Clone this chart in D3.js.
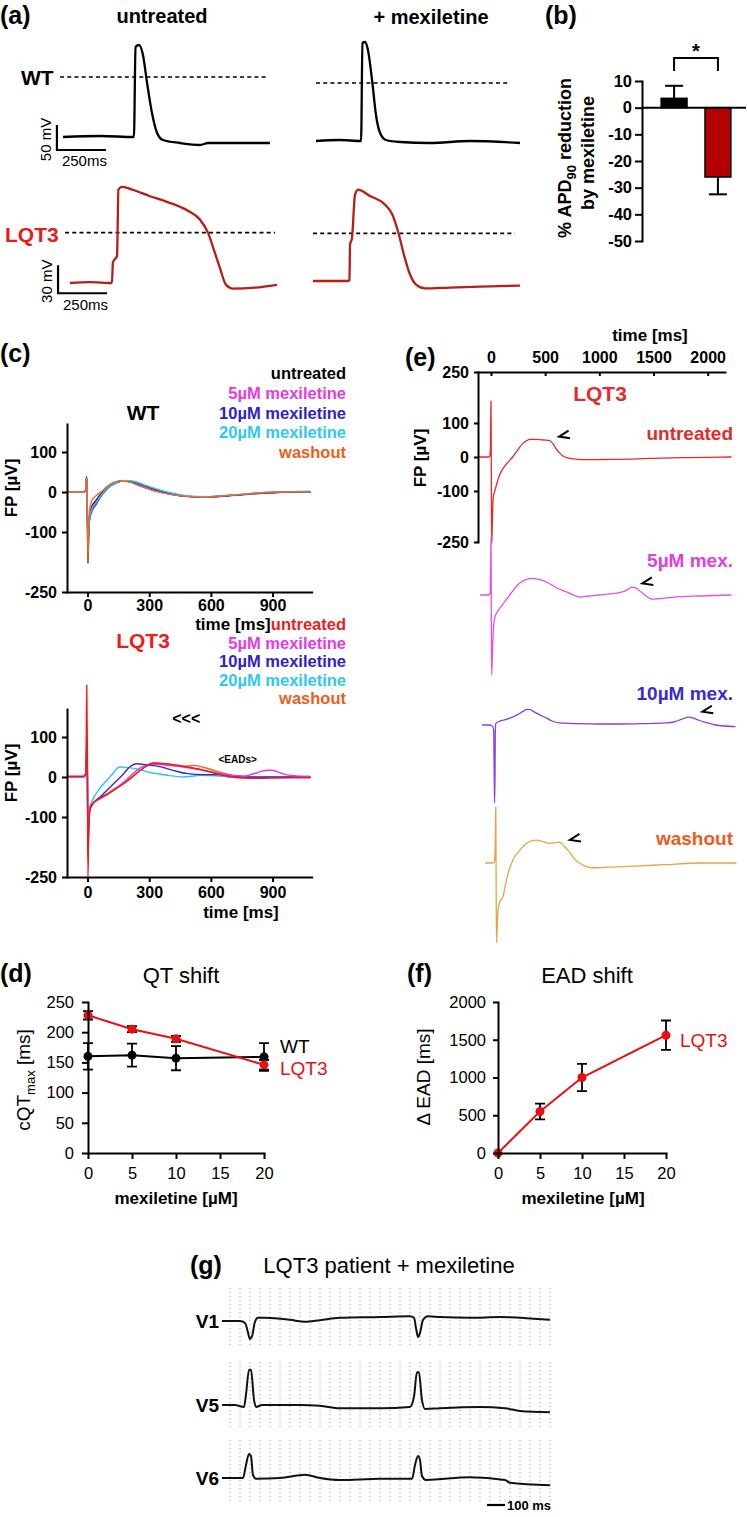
<!DOCTYPE html>
<html>
<head>
<meta charset="utf-8">
<script src="https://cdn.jsdelivr.net/npm/d3@7"></script>
<style>
  body { margin: 0; background: #fff; }
  svg { display: block; }
</style>
</head>
<body>
<svg id="fig" width="747" height="1517"></svg>
<script>
// ---------- data ----------
// (a) action potentials: [ms, mV above rest]
const apWtUntreated = [[0,0],[189,2],[362,0],[370,180],[388,184],[408,164],[429,108],[454,48],[480,8],[510,-6],[597,-12],[699,-16],[740,-12],[867,-12],[1056,-12]];
const apWtMex = [[0,0],[122,2],[230,0],[237,196],[250,198],[265,182],[286,122],[306,52],[327,16],[357,2],[429,-2],[582,-4],[786,0],[1041,-4]];
const apLqtUntreated = [[0,0],[102,1],[214,0],[219,22],[240,29],[247,100],[265,103],[306,101],[408,93],[495,87],[597,78],[663,68],[704,54],[735,35],[765,16],[796,-2],[832,-6],[944,-5],[1056,-2]];
const apLqtMex = [[0,0],[179,0],[186,1],[189,39],[199,46],[214,92],[230,98],[291,91],[367,82],[403,72],[434,53],[464,28],[495,7],[526,-4],[571,-8],[699,-7],[852,-6],[1056,-5]];
const apDashLevel = [120, 116, 54, 51];
const apDashSpan = [[-15,1046],[0,990],[-25,1046],[0,1030]];

// (b) % APD90 reduction by mexiletine
const bGroups = ["WT", "LQT3"];
const bMeans = [3.5, -26];
const bErrors = [4.7, 6.5];
const bTicks = [10, 0, -10, -20, -30, -40, -50];

// (c) field potentials [ms, µV]
const cLegend = ["untreated", "5µM mexiletine", "10µM mexiletine", "20µM mexiletine", "washout"];
const cWt = [
  [[-100,0],[-20,0],[-10,4],[-5,38],[-3,20],[0,-100],[2,-178],[5,-120],[10,-60],[20,-38],[40,-22],[70,-2],[100,14],[140,25],[170,28],[210,25],[260,15],[330,3],[400,-5],[480,-11],[560,-13],[650,-11],[750,-7],[850,-3],[950,-1],[1085,0]],
  [[-100,0],[-20,0],[-10,4],[-5,35],[-3,18],[0,-80],[2,-110],[5,-95],[10,-60],[20,-42],[40,-26],[70,-5],[100,12],[140,24],[175,28],[215,26],[265,16],[335,4],[405,-5],[485,-11],[565,-13],[655,-10],[755,-6],[855,-2],[955,0],[1085,1]],
  [[-100,0],[-20,0],[-10,4],[-5,36],[-3,18],[0,-90],[2,-115],[5,-100],[10,-70],[20,-50],[40,-32],[70,-8],[100,10],[140,23],[180,28],[220,26],[270,17],[340,5],[410,-4],[490,-11],[570,-13],[660,-10],[760,-6],[860,-2],[960,0],[1085,1]],
  [[-100,0],[-20,0],[-10,4],[-5,34],[-3,17],[0,-85],[2,-105],[5,-95],[10,-65],[20,-45],[40,-28],[70,-6],[100,11],[140,24],[180,29],[225,27],[275,18],[345,6],[415,-3],[495,-10],[575,-12],[665,-9],[765,-5],[865,-1],[965,1],[1085,2]],
  [[-100,0],[-20,0],[-10,4],[-5,36],[-3,18],[0,-90],[2,-175],[5,-110],[10,-45],[20,-22],[40,-10],[70,2],[100,16],[140,26],[170,27],[210,24],[260,14],[330,2],[400,-6],[480,-11],[560,-13],[650,-10],[750,-6],[850,-2],[950,0],[1085,0]]
];
const cLqt = [
  [[-100,2],[-20,2],[-8,10],[-4,230],[-1,60],[2,-250],[5,-150],[10,-90],[20,-70],[100,-42],[200,-8],[280,25],[320,35],[380,33],[465,27],[540,20],[615,10],[700,0],[800,-3],[1000,-2],[1085,-2]],
  [[-100,0],[-20,0],[-8,8],[-4,80],[-1,30],[2,-160],[5,-110],[10,-80],[20,-68],[60,-55],[100,-42],[140,-28],[200,-2],[255,22],[320,32],[380,30],[465,25],[550,18],[630,10],[700,4],[760,2],[820,10],[870,17],[900,17],[940,10],[985,4],[1085,1]],
  [[-100,1],[-20,1],[-8,6],[-4,60],[-1,20],[2,-190],[5,-130],[10,-85],[20,-72],[65,-48],[120,-20],[170,5],[205,25],[240,33],[290,30],[350,26],[420,16],[480,9],[560,6],[630,6],[700,3],[780,0],[900,0],[1085,1]],
  [[-100,0],[-20,0],[-8,5],[-4,50],[-1,15],[2,-137],[5,-100],[10,-75],[20,-62],[60,-28],[100,-5],[125,10],[156,25],[190,24],[240,20],[300,12],[380,5],[465,0],[550,4],[620,3],[700,0],[850,-1],[1085,2]],
  [[-100,1],[-20,1],[-8,8],[-4,100],[-1,35],[2,-200],[5,-140],[10,-85],[20,-70],[100,-40],[200,-6],[280,25],[320,35],[380,32],[440,27],[480,27],[515,29],[560,25],[630,14],[690,6],[750,2],[850,-1],[1085,-1]]
];
const cYTicks = [-250, -100, 0, 100];
const cXTicks = [0, 300, 600, 900];

// (e) LQT3 field potentials [ms, µV]
const eLabels = ["untreated", "5µM mex.", "10µM mex.", "washout"];
const eUntreated = [[-119,0],[-20,0],[-10,4],[-5,30],[-2,120],[0,165],[2,40],[4,-150],[7,-255],[12,-200],[20,-120],[37,-98],[83,-50],[140,-22],[200,0],[250,22],[294,40],[330,48],[358,52],[420,52],[490,50],[541,48],[570,40],[600,25],[633,12],[665,3],[697,-2],[780,-6],[880,-8],[1100,-7],[1300,-6],[1500,-4],[1760,-2],[2000,-1],[2220,0]];
const e5 = [[-100,0],[-20,0],[-8,5],[-3,100],[0,170],[2,40],[4,-150],[7,-235],[12,-180],[22,-100],[37,-64],[80,-40],[130,-18],[174,0],[220,20],[266,35],[320,45],[385,49],[440,46],[514,38],[600,22],[697,9],[760,0],[817,-6],[900,-3],[1000,0],[1100,3],[1211,9],[1260,16],[1303,23],[1340,20],[1367,14],[1420,0],[1486,-12],[1540,-11],[1610,-9],[1750,-5],[1917,-3],[2220,0]];
const e10 = [[-83,0],[-10,0],[15,-4],[25,-15],[29,-130],[33,-229],[37,-150],[40,-20],[45,5],[64,9],[146,17],[238,29],[300,41],[330,46],[360,45],[390,40],[450,30],[514,20],[570,11],[633,6],[800,4],[1000,3],[1200,3],[1400,4],[1615,6],[1700,10],[1761,17],[1826,23],[1870,20],[1917,14],[2000,6],[2073,0],[2257,-5]];
const eWash = [[-55,0],[10,0],[30,3],[38,40],[42,120],[44,165],[46,60],[48,-100],[51,-235],[56,-200],[62,-150],[75,-120],[111,-98],[150,-40],[202,9],[260,35],[330,58],[380,66],[422,67],[480,63],[541,58],[600,60],[633,61],[680,48],[725,32],[770,12],[817,0],[870,-9],[936,-14],[1100,-12],[1339,-9],[1600,-5],[1945,0],[2266,0]];
const eArrowTips = [[628,60],[1397,34],[1951,39],[729,68]];
const eXTicks = [0, 500, 1000, 1500, 2000];
const eYTicks = [-250, -100, 0, 100, 250];

// (d) QT shift
const doseConc = [0, 5, 10, 20];
const dWt = [160, 162, 157, 159];
const dWtErr = [22, 19, 20, 23];
const dLqt = [228, 205, 189, 146];
const dLqtErr = [7, 5, 5, 8];
const dYTicks = [0, 50, 100, 150, 200, 250];

// (f) EAD shift
const fEad = [0, 550, 1000, 1560];
const fEadErr = [0, 105, 180, 195];
const fYTicks = [0, 500, 1000, 1500, 2000];
const mexTicks = [0, 5, 10, 15, 20];

// (g) ECG leads [ms, mV]
const gLeads = ["V1", "V5", "V6"];
const ecgV1 = [[0,0],[100,0],[128,-0.05],[144,-0.28],[155,-0.45],[167,-0.38],[183,-0.02],[200,0.08],[239,0.08],[378,0.03],[461,-0.02],[544,0.02],[656,0.08],[878,0.1],[1044,0.12],[1067,0.08],[1078,-0.18],[1089,-0.4],[1100,-0.3],[1117,0.03],[1144,0.12],[1211,0.1],[1378,0.08],[1544,0.1],[1822,0.03]];
const ecgV5 = [[0,0],[72,0],[122,-0.05],[133,0.25],[150,0.88],[161,0.88],[178,0.12],[189,-0.05],[222,0],[433,0],[544,-0.02],[656,-0.08],[878,-0.08],[1044,-0.05],[1067,0.22],[1083,0.82],[1094,0.82],[1111,0.12],[1128,-0.1],[1211,-0.08],[1433,-0.05],[1572,-0.08],[1656,-0.15],[1822,-0.18]];
const ecgV6 = [[0,0],[117,0],[133,0.32],[150,0.6],[161,0.55],[172,0.08],[189,-0.02],[322,0],[461,0.08],[544,0],[656,-0.05],[878,-0.02],[1056,-0.02],[1072,0.32],[1089,0.55],[1100,0.45],[1111,0.05],[1133,-0.05],[1378,0.02],[1572,-0.05],[1600,-0.12],[1822,-0.18]];

// ---------- helpers ----------
const FONT = "'Liberation Sans', Arial, Helvetica, sans-serif";
const svg = d3.select("#fig");
svg.append("rect").attr("width", 747).attr("height", 1517).attr("fill", "#fff");

// text placed by the centre of its capitals
function txt(x, yc, s, size, color, weight, anchor) {
  return svg.append("text")
    .attr("x", x).attr("y", yc + size * 0.36)
    .attr("font-family", FONT).attr("font-size", size)
    .attr("font-weight", weight || "bold")
    .attr("fill", color || "#000")
    .attr("text-anchor", anchor || "start")
    .text(s);
}
// vertical text, xc = centre of capitals, yc = centre of string
function vtxt(xc, yc, s, size, color, weight) {
  const bx = xc + size * 0.36;
  return svg.append("text")
    .attr("transform", `translate(${bx},${yc}) rotate(-90)`)
    .attr("font-family", FONT).attr("font-size", size)
    .attr("font-weight", weight || "bold")
    .attr("fill", color || "#000")
    .attr("text-anchor", "middle")
    .text(s);
}
function axis(gen, tx, ty, size, weight) {
  const g = svg.append("g").attr("transform", `translate(${tx},${ty})`).call(gen);
  g.attr("font-family", FONT).attr("font-size", size).attr("font-weight", weight);
  g.select(".domain").attr("stroke-width", 2).attr("stroke-linecap", "square");
  g.selectAll(".tick line").attr("stroke-width", 2);
  return g;
}
const plain = d => String(d);

// ---------- (a) ----------
txt(0, 15, "(a)", 25);
txt(162, 16, "untreated", 20, "#000", "bold", "middle");
txt(431, 17, "+ mexiletine", 20, "#000", "bold", "middle");
txt(21, 77, "WT", 21);
txt(5, 234, "LQT3", 21, "#e02020");

const apTraces = [apWtUntreated, apWtMex, apLqtUntreated, apLqtMex];
const apBoxes = [
  { x0: 63, y0: 137, ky: 0.5, color: "#000" },
  { x0: 316, y0: 141, ky: 0.5, color: "#000" },
  { x0: 70, y0: 283, ky: 0.933, color: "#b81d16" },
  { x0: 313, y0: 281, ky: 0.933, color: "#b81d16" }
];
const apBars = { 0: { t: -31, v: -26, mv: 50, lab: "50 mV" }, 2: { t: -61, v: -11, mv: 30, lab: "30 mV" } };

apTraces.forEach((tr, i) => {
  const b = apBoxes[i];
  const x = d3.scaleLinear().domain([0, 1000]).range([b.x0, b.x0 + 196]);
  const y = d3.scaleLinear().domain([0, 100]).range([b.y0, b.y0 - 100 * b.ky]);
  svg.append("line")
    .attr("x1", x(apDashSpan[i][0])).attr("x2", x(apDashSpan[i][1]))
    .attr("y1", y(apDashLevel[i])).attr("y2", y(apDashLevel[i]))
    .attr("stroke", "#000").attr("stroke-width", 1.6).attr("stroke-dasharray", "4,3.2");
  svg.append("path").datum(tr)
    .attr("d", d3.line().x(d => x(d[0])).y(d => y(d[1])).curve(d3.curveMonotoneX))
    .attr("fill", "none").attr("stroke", b.color).attr("stroke-width", 2.3)
    .attr("stroke-linejoin", "round");
  const sb = apBars[i];
  if (sb) {
    svg.append("path")
      .attr("d", `M${x(sb.t)},${y(sb.v + sb.mv)}V${y(sb.v)}H${x(sb.t + 250)}`)
      .attr("fill", "none").attr("stroke", "#000").attr("stroke-width", 2.2);
    vtxt(x(sb.t) - 11, (y(sb.v) + y(sb.v + sb.mv)) / 2 + 2, sb.lab, 15, "#000", "normal");
    txt(x(sb.t) + 5, y(sb.v) + 11, "250ms", 15, "#000", "normal");
  }
});

// ---------- (b) ----------
txt(545, 15, "(b)", 25);
const yB = d3.scaleLinear().domain([-50, 10]).range([241, 81]);
const xB = d3.scaleBand().domain(bGroups).range([648, 744]).paddingInner(0.41).paddingOuter(0.3);
const bFill = ["#000", "#b30000"];
bGroups.forEach((gname, i) => {
  const v = bMeans[i], e = bErrors[i], s = Math.sign(v);
  const cx = xB(gname) + xB.bandwidth() / 2;
  const yEnd = yB(v + s * e);
  svg.append("line").attr("x1", cx).attr("x2", cx).attr("y1", yB(v)).attr("y2", yEnd)
    .attr("stroke", "#000").attr("stroke-width", 2);
  svg.append("line").attr("x1", cx - 9).attr("x2", cx + 9).attr("y1", yEnd).attr("y2", yEnd)
    .attr("stroke", "#000").attr("stroke-width", 2);
  svg.append("rect")
    .attr("x", xB(gname)).attr("width", xB.bandwidth())
    .attr("y", yB(Math.max(0, v))).attr("height", Math.abs(yB(v) - yB(0)))
    .attr("fill", bFill[i]).attr("stroke", "#000").attr("stroke-width", 1.5);
});
svg.append("line").attr("x1", 642).attr("x2", 746).attr("y1", yB(0)).attr("y2", yB(0))
  .attr("stroke", "#000").attr("stroke-width", 2);
axis(d3.axisLeft(yB).tickValues(bTicks).tickSize(7).tickSizeOuter(0).tickPadding(3).tickFormat(plain), 642, 0, 16.5, "bold");
{
  const c1 = xB("WT") + xB.bandwidth() / 2, c2 = xB("LQT3") + xB.bandwidth() / 2;
  svg.append("path").attr("d", `M${c1},71V58H${c2}V71`).attr("fill", "none")
    .attr("stroke", "#000").attr("stroke-width", 2);
  txt((c1 + c2) / 2, 51, "*", 20, "#000", "bold", "middle");
}
{
  const t1 = svg.append("text")
    .attr("transform", "translate(571,158) rotate(-90)")
    .attr("font-family", FONT).attr("font-size", 18).attr("font-weight", "bold")
    .attr("text-anchor", "middle");
  t1.append("tspan").text("% APD");
  t1.append("tspan").attr("dy", 5).attr("font-size", 13).text("90");
  t1.append("tspan").attr("dy", -5).text(" reduction");
  vtxt(588, 153, "by mexiletine", 18);
}

// ---------- (c) ----------
txt(0, 353, "(c)", 25);
const xC = d3.scaleLinear().domain([-100, 1090]).range([67, 311.6]);
const cWtColors = ["#000000", "#e33ae3", "#3a26d4", "#25c6ef", "#f06a1e"];
const cLqtColors = ["#f01818", "#e33ae3", "#3a26d4", "#25c6ef", "#f06a1e"];
const cLegendWt = ["#000000", "#e33ae3", "#2f22c8", "#2ec9f0", "#f05e1a"];
const cLegendLqt = ["#ee1c1c", "#e33ae3", "#2f22c8", "#2ec9f0", "#f05e1a"];

function fpPanel(traces, colors, order, yTop, yAxis, legendY, legendStep, legendColors, title, titleColor, titleY, tickPad, timeX, timeGap) {
  const y = d3.scaleLinear().domain([-250, 170]).range([yAxis, yTop]);
  const line = d3.line().x(d => xC(d[0])).y(d => y(d[1])).curve(d3.curveMonotoneX);
  order.forEach(i => {
    svg.append("path").datum(traces[i]).attr("d", line)
      .attr("fill", "none").attr("stroke", colors[i]).attr("stroke-width", 1.4)
      .attr("stroke-linejoin", "round");
  });
  axis(d3.axisLeft(y).tickValues(cYTicks).tickSize(5).tickSizeOuter(0).tickPadding(5).tickFormat(plain), 67, 0, 16, "bold");
  axis(d3.axisBottom(xC).tickValues(cXTicks).tickSize(5).tickSizeOuter(0).tickPadding(tickPad).tickFormat(plain), 0, yAxis, 16, "bold");
  txt(timeX, yAxis + timeGap, "time [ms]", 17, "#000", "bold", "middle");
  vtxt(11, (y(-250) + y(170)) / 2 - 20, "FP [µV]", 17);
  cLegend.forEach((s, i) => txt(346, legendY + i * legendStep, s, 16.5, legendColors[i], "bold", "end"));
  txt(143, titleY, title, 21, titleColor, "bold", "middle");
  return y;
}
fpPanel(cWt, cWtColors, [0, 1, 2, 3, 4], 424, 592, 373, 19.8, cLegendWt, "WT", "#000", 412, 3, 233, 32);
const yCL = fpPanel(cLqt, cLqtColors, [4, 3, 2, 1, 0], 709, 877, 624, 18.6, cLegendLqt, "LQT3", "#ee1c1c", 640, 5, 241, 35);
txt(xC(480), yCL(148), "<<<", 16, "#000", "bold", "middle");
txt(xC(730), yCL(44), "<EADs>", 10, "#000", "bold", "middle");

// ---------- (e) ----------
txt(405, 357, "(e)", 25);
const xE = d3.scaleLinear().domain([-120, 2160]).range([478, 725]);
const yE = d3.scaleLinear().domain([-250, 250]).range([542, 372]);
const eTraces = [eUntreated, e5, e10, eWash];
const eColors = ["#e52a2a", "#e84ee8", "#8a3ee0", "#e9a33e"];
const eLabelColors = ["#e52a2a", "#e040e0", "#3a2ad0", "#f05a1e"];
const eOffsets = [0, 138, 268, 406];
const eLabelY = [433, 560, 693, 838];
const eLine = d3.line().x(d => xE(d[0])).y(d => yE(d[1])).curve(d3.curveMonotoneX);
eTraces.forEach((tr, i) => {
  const g = svg.append("g").attr("transform", `translate(0,${eOffsets[i]})`);
  g.append("path").datum(tr).attr("d", eLine)
    .attr("fill", "none").attr("stroke", eColors[i]).attr("stroke-width", 1.3)
    .attr("stroke-linejoin", "round");
  const tx = xE(eArrowTips[i][0]), ty = yE(eArrowTips[i][1]);
  g.append("path").attr("d", `M${tx + 9.5},${ty - 6}L${tx},${ty}L${tx + 11},${ty + 1.6}`)
    .attr("fill", "none").attr("stroke", "#000").attr("stroke-width", 2)
    .attr("stroke-linejoin", "miter");
  txt(733, eLabelY[i], eLabels[i], 19, eLabelColors[i], "bold", "end");
});
axis(d3.axisTop(xE).tickValues(eXTicks).tickSizeInner(-4).tickSizeOuter(0).tickPadding(9).tickFormat(plain), 0, 372, 16, "bold");
axis(d3.axisLeft(yE).tickValues(eYTicks).tickSize(4).tickSizeOuter(0).tickPadding(5).tickFormat(plain), 478, 0, 16, "bold");
txt(650, 335, "time [ms]", 17, "#000", "bold", "middle");
vtxt(420, 458, "FP [µV]", 17);
txt(600, 393, "LQT3", 21, "#e52a2a", "bold", "middle");

// ---------- (d) ----------
txt(0, 973, "(d)", 25);
txt(181, 975, "QT shift", 22, "#000", "normal", "middle");
const xD = d3.scaleLinear().domain([0, 20]).range([88, 264]);
const yD = d3.scaleLinear().domain([0, 250]).range([1153, 1002]);

function doseSeries(xs, ys, vals, errs, color) {
  const pts = doseConc.map((c, i) => [c, vals[i], errs[i]]);
  svg.append("path").datum(pts)
    .attr("d", d3.line().x(d => xs(d[0])).y(d => ys(d[1])))
    .attr("fill", "none").attr("stroke", color).attr("stroke-width", 2);
  pts.forEach(d => {
    if (!d[2]) return;
    const cx = xs(d[0]);
    svg.append("path")
      .attr("d", `M${cx - 5},${ys(d[1] + d[2])}H${cx + 5}M${cx},${ys(d[1] + d[2])}V${ys(d[1] - d[2])}M${cx - 5},${ys(d[1] - d[2])}H${cx + 5}`)
      .attr("fill", "none").attr("stroke", "#000").attr("stroke-width", 1.8);
  });
  return pts;
}
const dPtsWt = doseSeries(xD, yD, dWt, dWtErr, "#000");
const dPtsLqt = doseSeries(xD, yD, dLqt, dLqtErr, "#e81010");
[[dPtsWt, "#000"], [dPtsLqt, "#e81010"]].forEach(([pts, c]) => {
  svg.selectAll(null).data(pts).enter().append("circle")
    .attr("cx", d => xD(d[0])).attr("cy", d => yD(d[1])).attr("r", 4.5).attr("fill", c);
});
axis(d3.axisLeft(yD).tickValues(dYTicks).tickSize(6).tickSizeOuter(0).tickPadding(8).tickFormat(plain), 88, 0, 16.5, "normal");
axis(d3.axisBottom(xD).tickValues(mexTicks).tickSize(6).tickSizeOuter(0).tickPadding(8).tickFormat(plain), 0, 1153, 16.5, "normal");
txt(176, 1198, "mexiletine [µM]", 17, "#000", "bold", "middle");
txt(280, 1046, "WT", 19, "#000", "normal");
txt(280, 1068, "LQT3", 19, "#e81010", "normal");
{
  const t = svg.append("text")
    .attr("transform", "translate(30,1080) rotate(-90)")
    .attr("font-family", FONT).attr("font-size", 19).attr("text-anchor", "middle");
  t.append("tspan").text("cQT");
  t.append("tspan").attr("dy", 5).attr("font-size", 13).text("max");
  t.append("tspan").attr("dy", -5).text(" [ms]");
}

// ---------- (f) ----------
txt(407, 973, "(f)", 25);
txt(587, 975, "EAD shift", 22, "#000", "normal", "middle");
const xF = d3.scaleLinear().domain([0, 20]).range([498, 666]);
const yF = d3.scaleLinear().domain([0, 2000]).range([1153, 1002]);
const fPts = doseSeries(xF, yF, fEad, fEadErr, "#e81010");
svg.selectAll(null).data(fPts).enter().append("circle")
  .attr("cx", d => xF(d[0])).attr("cy", d => yF(d[1])).attr("r", 4.5).attr("fill", "#e81010");
axis(d3.axisLeft(yF).tickValues(fYTicks).tickSize(5).tickSizeOuter(0).tickPadding(7).tickFormat(plain), 498, 0, 16.5, "normal");
axis(d3.axisBottom(xF).tickValues(mexTicks).tickSize(6).tickSizeOuter(0).tickPadding(8).tickFormat(plain), 0, 1153, 16.5, "normal");
txt(583, 1198, "mexiletine [µM]", 17, "#000", "bold", "middle");
txt(680, 1040, "LQT3", 19, "#e81010", "normal");
vtxt(423, 1077, "Δ EAD [ms]", 19, "#000", "normal");

// ---------- (g) ----------
txt(190, 1265, "(g)", 25);
txt(389, 1265, "LQT3 patient + mexiletine", 22, "#000", "normal", "middle");
const xG = d3.scaleLinear().domain([0, 1000]).range([222, 402]);
const gBase = [1321, 1405, 1478];
const gStrips = [[1288, 1347], [1362, 1430], [1440, 1502]];
// dotted paper grid
gStrips.forEach(([y1, y2]) => {
  d3.range(230, 552, 10).forEach(gx => {
    svg.append("line").attr("x1", gx).attr("x2", gx).attr("y1", y1).attr("y2", y2)
      .attr("stroke", "#6a6a6a").attr("stroke-width", 1)
      .attr("stroke-dasharray", "1.2,2.8").attr("opacity", 0.6);
  });
});
[ecgV1, ecgV5, ecgV6].forEach((tr, i) => {
  const y = d3.scaleLinear().domain([0, 1]).range([gBase[i], gBase[i] - 40]);
  svg.append("path").datum(tr)
    .attr("d", d3.line().x(d => xG(d[0])).y(d => y(d[1])).curve(d3.curveMonotoneX))
    .attr("fill", "none").attr("stroke", "#111").attr("stroke-width", 2)
    .attr("stroke-linejoin", "round");
  txt(219, gBase[i], gLeads[i], 19, "#000", "bold", "end");
});
svg.append("line").attr("x1", xG(1472)).attr("x2", xG(1572)).attr("y1", 1505).attr("y2", 1505)
  .attr("stroke", "#000").attr("stroke-width", 2.2);
txt(xG(1572) + 2, 1505, "100 ms", 13, "#000", "bold");
</script>
</body>
</html>
